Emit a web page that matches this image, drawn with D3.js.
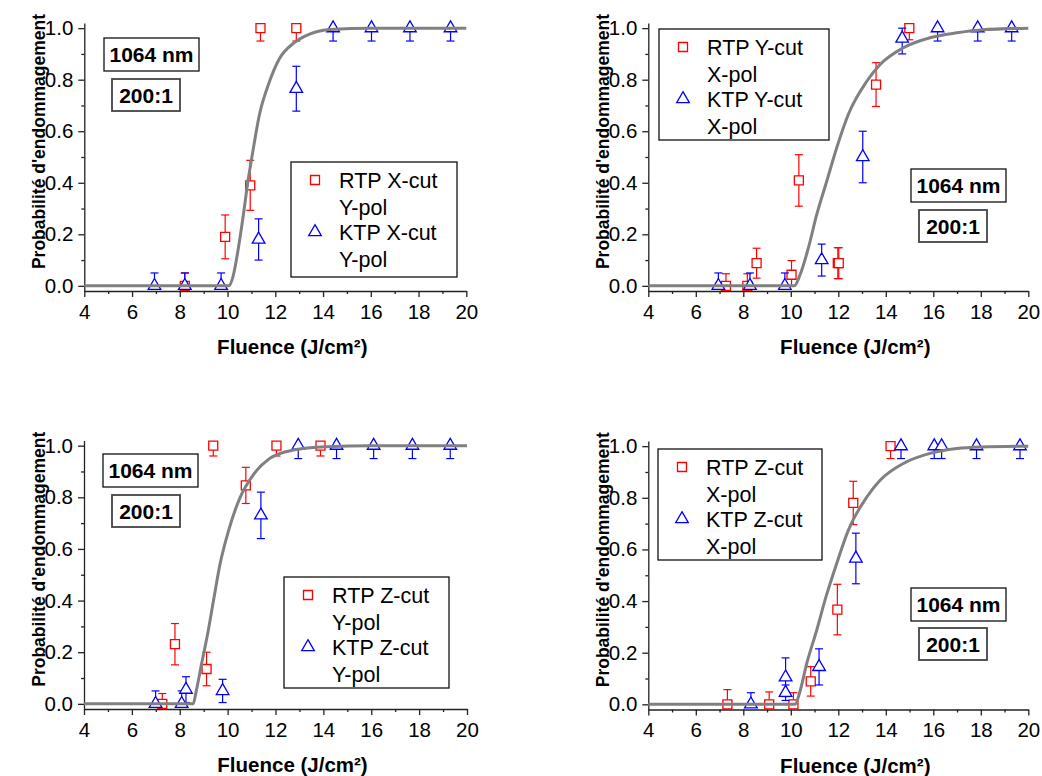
<!DOCTYPE html>
<html>
<head>
<meta charset="utf-8">
<script src="https://cdn.jsdelivr.net/npm/d3@7"></script>
<style>
  html, body { margin: 0; padding: 0; background: #fff; }
  svg { display: block; }
</style>
</head>
<body>
<svg id="chart" width="1042" height="776"></svg>
<script>
// ---------------- DATA ----------------
const xTickValues = [4, 6, 8, 10, 12, 14, 16, 18, 20];
const xMinorValues = [5, 7, 9, 11, 13, 15, 17, 19];
const yTickValues = [0, 0.2, 0.4, 0.6, 0.8, 1.0];
const yMinorValues = [0.1, 0.3, 0.5, 0.7, 0.9];
const xTitle = "Fluence (J/cm²)";
const yTitle = "Probabilité d'endommagement";
const annotWavelength = "1064 nm";
const annotRatio = "200:1";

// Panel A : X-cut, Y-pol
const rtpXcutF   = [8.21, 9.90, 10.95, 11.38, 12.88];
const rtpXcutP   = [0, 0.19, 0.39, 1.0, 1.0];
const rtpXcutErr = [0.05, 0.085, 0.097, 0.05, 0.05];
const ktpXcutF   = [6.94, 8.21, 9.73, 11.30, 12.88, 14.42, 16.03, 17.64, 19.34];
const ktpXcutP   = [0, 0, 0, 0.18, 0.765, 1, 1, 1, 1];
const ktpXcutErr = [0.05, 0.05, 0.05, 0.08, 0.087, 0.05, 0.05, 0.05, 0.05];
const fitXcutF   = [4, 10.05, 10.24, 10.45, 10.66, 10.85, 11.08, 11.33, 11.75, 12.17, 12.83, 13.46, 14.3, 16, 20];
const fitXcutP   = [0, 0, 0.04, 0.145, 0.274, 0.403, 0.533, 0.662, 0.791, 0.881, 0.946, 0.978, 0.995, 1.0, 1.0];
const legendXcut = [["RTP X-cut", "Y-pol"], ["KTP X-cut", "Y-pol"]];

// Panel B : Y-cut, X-pol
const rtpYcutF   = [7.27, 8.17, 8.56, 10.03, 10.34, 11.98, 12.02, 13.59, 14.99];
const rtpYcutP   = [0, 0, 0.088, 0.043, 0.409, 0.088, 0.088, 0.781, 1.0];
const rtpYcutErr = [0.047, 0.047, 0.058, 0.055, 0.10, 0.06, 0.06, 0.085, 0.045];
const ktpYcutF   = [6.95, 8.28, 9.75, 11.30, 13.03, 14.69, 16.18, 17.87, 19.30];
const ktpYcutP   = [0, 0, 0, 0.10, 0.50, 0.96, 1, 1, 1];
const ktpYcutErr = [0.05, 0.05, 0.05, 0.062, 0.10, 0.06, 0.05, 0.05, 0.05];
const fitYcutF   = [4, 10.15, 10.39, 10.74, 11.09, 11.51, 11.93, 12.42, 13.20, 13.76, 14.74, 15.86, 16.99, 18, 20];
const fitYcutP   = [0, 0, 0.043, 0.147, 0.276, 0.405, 0.535, 0.665, 0.794, 0.859, 0.924, 0.963, 0.982, 0.993, 1.0];
const legendYcut = [["RTP Y-cut", "X-pol"], ["KTP Y-cut", "X-pol"]];

// Panel C : Z-cut, Y-pol
const rtpZcutYF   = [7.27, 7.80, 9.12, 9.40, 10.76, 12.04, 13.88];
const rtpZcutYP   = [0, 0.231, 0.135, 1.0, 0.846, 1.0, 1.0];
const rtpZcutYErr = [0.04, 0.08, 0.065, 0.04, 0.07, 0.04, 0.04];
const ktpZcutYF   = [6.99, 8.08, 8.26, 9.79, 11.39, 12.95, 14.55, 16.10, 17.72, 19.30];
const ktpZcutYP   = [0, 0, 0.055, 0.05, 0.73, 1, 1, 1, 1, 1];
const ktpZcutYErr = [0.05, 0.05, 0.05, 0.045, 0.09, 0.05, 0.05, 0.05, 0.05, 0.05];
const fitZcutYF   = [4, 8.56, 8.69, 8.91, 9.19, 9.43, 9.68, 10.03, 10.51, 11.07, 11.77, 12.74, 14.13, 16, 20];
const fitZcutYP   = [0, 0, 0.05, 0.154, 0.283, 0.411, 0.540, 0.668, 0.797, 0.887, 0.951, 0.983, 0.996, 1.0, 1.0];
const legendZcutY = [["RTP Z-cut", "Y-pol"], ["KTP Z-cut", "Y-pol"]];

// Panel D : Z-cut, X-pol
const rtpZcutXF   = [7.33, 9.09, 10.11, 10.84, 11.96, 12.63, 14.20];
const rtpZcutXP   = [0, 0, 0, 0.089, 0.367, 0.780, 1.0];
const rtpZcutXErr = [0.057, 0.048, 0.045, 0.057, 0.098, 0.084, 0.048];
const ktpZcutXF   = [8.32, 9.78, 9.78, 11.19, 12.74, 14.64, 16.04, 16.35, 17.82, 19.65];
const ktpZcutXP   = [0, 0.105, 0.045, 0.145, 0.565, 1, 1, 1, 1, 1];
const ktpZcutXErr = [0.045, 0.075, 0.03, 0.07, 0.098, 0.048, 0.048, 0.048, 0.048, 0.048];
const fitZcutXF   = [4, 10.18, 10.37, 10.67, 11.09, 11.48, 11.93, 12.42, 13.20, 13.76, 14.74, 15.86, 16.99, 18, 20];
const fitZcutXP   = [0, 0, 0.045, 0.158, 0.287, 0.416, 0.545, 0.674, 0.803, 0.868, 0.933, 0.972, 0.991, 0.997, 1.0];
const legendZcutX = [["RTP Z-cut", "X-pol"], ["KTP Z-cut", "X-pol"]];

// ---------------- LAYOUT ----------------
const FONT = "'Liberation Sans', Arial, Helvetica, sans-serif";
const RED = "#ff0000", BLUE = "#0000ff", FIT = "#808080";

const panels = [
  { xr: [84.3, 466.3], yr: [291, 23],
    rtp: [rtpXcutF, rtpXcutP, rtpXcutErr], ktp: [ktpXcutF, ktpXcutP, ktpXcutErr],
    fit: [fitXcutF, fitXcutP], legend: legendXcut,
    lg: [291, 162, 166, 115], a1: [104, 38], a2: [112, 79] },
  { xr: [648.3, 1028.3], yr: [291, 23],
    rtp: [rtpYcutF, rtpYcutP, rtpYcutErr], ktp: [ktpYcutF, ktpYcutP, ktpYcutErr],
    fit: [fitYcutF, fitYcutP], legend: legendYcut,
    lg: [659, 29, 170, 111], a1: [911, 169], a2: [919, 210] },
  { xr: [84, 467], yr: [709, 440.5],
    rtp: [rtpZcutYF, rtpZcutYP, rtpZcutYErr], ktp: [ktpZcutYF, ktpZcutYP, ktpZcutYErr],
    fit: [fitZcutYF, fitZcutYP], legend: legendZcutY,
    lg: [284, 577, 165, 111], a1: [103, 454], a2: [112, 495] },
  { xr: [648.3, 1028.3], yr: [709.5, 441],
    rtp: [rtpZcutXF, rtpZcutXP, rtpZcutXErr], ktp: [ktpZcutXF, ktpZcutXP, ktpZcutXErr],
    fit: [fitZcutXF, fitZcutXP], legend: legendZcutX,
    lg: [658, 449, 164, 111], a1: [911, 588], a2: [919, 628] }
];

const svg = d3.select("#chart");

const squarePath = "M-4.5,-4.5H4.5V4.5H-4.5Z";
const trianglePath = "M0,-7.3L6.3,3.6L-6.3,3.6Z";

function drawPanel(p) {
  const g = svg.append("g");
  const x = d3.scaleLinear().domain([4, 20]).range(p.xr);
  const y = d3.scaleLinear().domain([-0.02, 1.02]).range(p.yr);

  // axes
  g.append("g").attr("transform", `translate(0,${p.yr[0]})`)
    .call(d3.axisBottom(x).tickValues(xTickValues).tickSize(6).tickSizeOuter(0).tickPadding(7)
      .tickFormat(d3.format("d")));
  g.append("g").attr("transform", `translate(0,${p.yr[0]})`)
    .call(d3.axisBottom(x).tickValues(xMinorValues).tickSize(3).tickSizeOuter(0).tickFormat(""))
    .select(".domain").remove();
  g.append("g").attr("transform", `translate(${p.xr[0]},0)`)
    .call(d3.axisLeft(y).tickValues(yTickValues).tickSize(6).tickSizeOuter(0).tickPadding(5)
      .tickFormat(d3.format(".1f")));
  g.append("g").attr("transform", `translate(${p.xr[0]},0)`)
    .call(d3.axisLeft(y).tickValues(yMinorValues).tickSize(3).tickSizeOuter(0).tickFormat(""))
    .select(".domain").remove();
  g.selectAll(".domain, .tick line").attr("stroke", "#222").attr("stroke-width", 1.3);
  g.selectAll(".tick text").attr("font-family", FONT).attr("font-size", 20.5).attr("fill", "#000");

  // axis titles
  g.append("text")
    .attr("x", (p.xr[0] + p.xr[1]) / 2 + 17).attr("y", p.yr[0] + 63)
    .attr("text-anchor", "middle").attr("font-family", FONT)
    .attr("font-weight", "bold").attr("font-size", 20.5).text(xTitle);
  const ycx = p.xr[0] - 39, ycy = y(0.56);
  g.append("text")
    .attr("transform", `translate(${ycx},${ycy}) rotate(-90)`)
    .attr("text-anchor", "middle").attr("font-family", FONT)
    .attr("font-weight", "bold").attr("font-size", 17.5).text(yTitle);

  // series
  function series(arr, color, path) {
    const [fs, ps, es] = arr;
    const pts = fs.map((f, i) => ({ f, p: ps[i], e: es[i] }));
    const eg = g.append("g").attr("stroke", color).attr("stroke-width", 1.2).attr("fill", "none");
    pts.forEach(d => {
      const lo = Math.max(0, d.p - d.e), hi = Math.min(1, d.p + d.e);
      const cx = x(d.f);
      eg.append("line").attr("x1", cx).attr("x2", cx).attr("y1", y(lo)).attr("y2", y(hi));
      eg.append("line").attr("x1", cx - 4).attr("x2", cx + 4).attr("y1", y(lo)).attr("y2", y(lo));
      eg.append("line").attr("x1", cx - 4).attr("x2", cx + 4).attr("y1", y(hi)).attr("y2", y(hi));
    });
    g.append("g").selectAll("path").data(pts).join("path")
      .attr("d", path)
      .attr("transform", d => `translate(${x(d.f)},${y(d.p)})`)
      .attr("fill", "#fff").attr("stroke", color).attr("stroke-width", 1.3);
  }
  series(p.rtp, RED, squarePath);
  series(p.ktp, BLUE, trianglePath);

  // fit curve
  const fitPts = p.fit[0].map((f, i) => [f, p.fit[1][i]]);
  g.append("path").datum(fitPts)
    .attr("d", d3.line().x(d => x(d[0])).y(d => y(d[1])).curve(d3.curveMonotoneX))
    .attr("fill", "none").attr("stroke", FIT).attr("stroke-width", 3);

  // legend
  const [lx, ly, lw, lh] = p.lg;
  const lgG = g.append("g");
  lgG.append("rect").attr("x", lx).attr("y", ly).attr("width", lw).attr("height", lh)
    .attr("fill", "#fff").attr("stroke", "#111").attr("stroke-width", 1.3);
  const symbols = [[squarePath, RED, 18], [trianglePath, BLUE, 70]];
  symbols.forEach((s, i) => {
    lgG.append("path").attr("d", s[0]).attr("transform", `translate(${lx + 24},${ly + s[2]})`)
      .attr("fill", "#fff").attr("stroke", s[1]).attr("stroke-width", 1.3);
    p.legend[i].forEach((t, j) => {
      lgG.append("text").attr("x", lx + 48).attr("y", ly + 26 + i * 52 + j * 26.5)
        .attr("font-family", FONT).attr("font-size", 21.5).attr("fill", "#000").text(t);
    });
  });

  // annotations
  function box(pos, w, h, txt, sw, col) {
    g.append("rect").attr("x", pos[0]).attr("y", pos[1]).attr("width", w).attr("height", h)
      .attr("fill", "#fff").attr("stroke", col).attr("stroke-width", sw);
    g.append("text").attr("x", pos[0] + w / 2).attr("y", pos[1] + h / 2 + 7.5)
      .attr("text-anchor", "middle").attr("font-family", FONT).attr("font-weight", "bold")
      .attr("font-size", 21).text(txt);
  }
  box(p.a1, 95, 33, annotWavelength, 1.3, "#111");
  box(p.a2, 68, 32, annotRatio, 1.8, "#444");
}

panels.forEach(drawPanel);
</script>
</body>
</html>
